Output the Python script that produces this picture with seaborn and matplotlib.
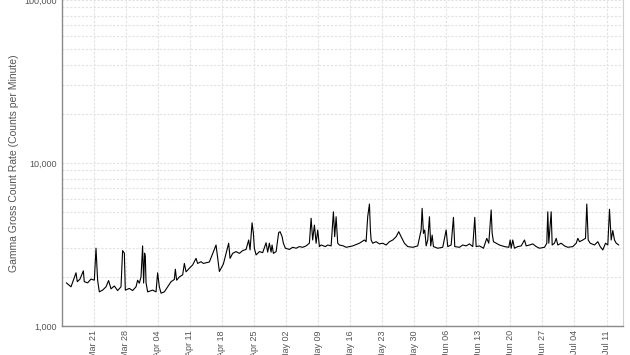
import matplotlib
matplotlib.use("Agg")
import matplotlib.pyplot as plt
import matplotlib.dates as mdates
import matplotlib.ticker as mticker
import numpy as np
import pandas as pd
import seaborn as sns

# Days after 2011-03-21 00:00 and gamma gross count rate (counts per minute)
days = [-6.01, -4.98, -3.89, -3.61, -3.02, -2.29, -2.08, -1.35, -0.61, 0.11,
        0.48, 0.83, 1.20, 1.92, 2.67, 3.23, 3.76, 4.48, 5.20, 5.94,
        6.29, 6.67, 6.88, 7.76, 8.48, 9.22, 9.57, 9.94, 10.31, 10.66,
        10.88, 11.10, 11.25, 11.41, 11.76, 12.85, 13.59, 13.94, 14.31, 14.69,
        15.41, 16.13, 16.87, 17.59, 17.81, 18.09, 18.68, 19.41, 19.78, 20.15,
        20.87, 21.59, 22.33, 22.68, 23.43, 23.93, 25.24, 26.70, 27.43, 28.30,
        29.46, 29.76, 30.33, 31.08, 31.80, 32.52, 33.26, 33.83, 34.13, 34.57,
        34.86, 35.07, 35.45, 36.17, 36.89, 37.63, 37.98, 38.35, 38.72, 38.94,
        39.23, 39.82, 40.38, 40.69, 41.13, 41.41, 41.85, 42.72, 43.44, 44.19,
        44.91, 45.63, 46.37, 47.09, 47.47, 47.81, 48.19, 48.56, 48.91, 49.28,
        49.65, 50.15, 50.59, 51.09, 51.84, 52.34, 52.62, 52.93, 53.28, 53.65,
        54.52, 55.11, 56.56, 58.02, 59.11, 59.48, 59.83, 60.21, 60.42, 60.58,
        60.93, 61.67, 62.39, 63.11, 63.86, 64.58, 65.30, 66.04, 66.61, 67.13,
        67.85, 68.58, 69.67, 70.76, 71.50, 71.72, 72.01, 72.29, 72.60, 72.95,
        73.32, 73.60, 73.91, 74.19, 75.13, 76.22, 76.97, 77.32, 78.06, 78.56,
        78.85, 79.87, 80.59, 81.34, 82.06, 82.78, 83.22, 83.52, 84.24, 85.12,
        85.84, 86.28, 86.80, 87.02, 87.30, 87.89, 88.61, 89.71, 90.65, 90.95,
        91.17, 91.52, 91.89, 92.61, 93.36, 94.08, 94.45, 95.17, 95.89, 96.64,
        97.36, 98.45, 98.95, 99.17, 99.39, 99.91, 100.13, 100.63, 101.01, 101.36,
        102.10, 102.82, 103.54, 104.63, 105.38, 105.73, 106.10, 106.82, 107.41, 107.69,
        108.00, 108.44, 109.38, 110.10, 110.62, 111.19, 111.78, 112.28, 112.65, 113.02,
        113.37, 113.74, 114.12, 114.68]

counts = [1840, 1740, 2120, 1870, 1940, 2180, 1870, 1840, 1940, 1910,
          3000, 1910, 1620, 1660, 1740, 1900, 1690, 1760, 1650, 1740,
          2900, 2800, 1660, 1700, 1650, 1740, 1910, 1830, 2000, 3100,
          1835, 2800, 2660, 1840, 1620, 1660, 1620, 2120, 1740, 1590,
          1620, 1740, 1870, 1930, 2230, 1910, 2000, 2060, 2420, 2150,
          2260, 2370, 2600, 2420, 2480, 2420, 2470, 3140, 2160, 2400,
          3220, 2600, 2790, 2860, 2790, 2900, 2950, 3370, 2930, 4300,
          3700, 3000, 2730, 2860, 2820, 3240, 2840, 3220, 2840, 3140,
          2790, 2860, 3740, 3790, 3530, 3220, 3000, 2950, 3040, 3000,
          3070, 3040, 3100, 3220, 4580, 3370, 4160, 3220, 3880, 3070,
          3140, 3100, 3070, 3140, 3100, 5020, 3530, 4680, 3220, 3140,
          3100, 3040, 3100, 3220, 3370, 3290, 4680, 5600, 3880, 3370,
          3220, 3290, 3190, 3220, 3140, 3290, 3370, 3530, 3790, 3530,
          3220, 3070, 3040, 3100, 3880, 5270, 3700, 3880, 3100, 3370,
          4680, 3100, 3610, 3070, 3000, 3040, 3880, 3070, 3140, 4640,
          3070, 3040, 3140, 3100, 3190, 3070, 4640, 3070, 3100, 3000,
          3450, 3220, 5150, 3700, 3290, 3220, 3140, 3070, 3040, 3370,
          3000, 3370, 3000, 3070, 3100, 3370, 3100, 3140, 3190, 3070,
          3000, 3040, 3220, 5020, 3220, 5020, 3140, 3220, 3450, 3140,
          3220, 3100, 3040, 3070, 3220, 3450, 3290, 3370, 3450, 5600,
          3370, 3220, 3140, 3290, 3070, 2930, 3220, 3140, 5200, 3370,
          3850, 3370, 3220, 3140]

y_label = "Gamma Gross Count Rate (Counts per Minute)"
y_major = [1000, 10000, 100000]

base = pd.Timestamp("2011-03-21")
df = pd.DataFrame({
    "time": base + pd.to_timedelta(days, unit="D"),
    "cpm": counts,
})

sns.set_style("white")
plt.rcParams["font.family"] = ["Liberation Sans", "DejaVu Sans"]

fig = plt.figure(figsize=(6.3, 3.55), dpi=100)
ax = fig.add_axes([62 / 630, 1 - 326 / 355, (623 - 62) / 630, 326 / 355])

sns.lineplot(data=df, x="time", y="cpm", ax=ax, color="black", lw=0.8,
             estimator=None, sort=False)

ax.set_yscale("log")
ax.set_ylim(1000, 100000)
ax.set_xlim(base + pd.Timedelta(days=-6.95), base + pd.Timedelta(days=115.6))

ax.yaxis.set_major_locator(mticker.FixedLocator(y_major))
ax.yaxis.set_major_formatter(mticker.FuncFormatter(lambda v, p: f"{int(v):,}"))
ax.yaxis.set_minor_locator(mticker.LogLocator(base=10, subs=np.arange(2, 10)))
ax.yaxis.set_minor_formatter(mticker.NullFormatter())

ax.xaxis.set_major_locator(mdates.WeekdayLocator(byweekday=mdates.MO))
ax.xaxis.set_major_formatter(mdates.DateFormatter("%b %d"))

grid_kw = dict(color="#e2e2e2", lw=0.8, linestyle=(0, (2, 1.5)))
ax.grid(True, which="major", axis="both", **grid_kw)
ax.grid(True, which="minor", axis="y", **grid_kw)
ax.set_axisbelow(True)

ax.tick_params(axis="both", which="both", length=0, labelsize=6.5,
               labelcolor="#555555")
ax.tick_params(axis="y", pad=4)
ax.tick_params(axis="x", pad=3)
for lbl in ax.get_xticklabels():
    lbl.set_rotation(90)
    lbl.set_ha("center")
    lbl.set_va("top")

ax.set_xlabel("")
ax.set_ylabel(y_label, fontsize=7.5, color="#555555")
ax.yaxis.set_label_coords(-(62 - 19) / 561, 0.5)

for side in ["left", "bottom"]:
    ax.spines[side].set_color("#8a8a8a")
    ax.spines[side].set_linewidth(1.0)
ax.spines["right"].set_color("#d0d0d0")
ax.spines["right"].set_linewidth(0.8)
ax.spines["top"].set_visible(False)

fig.savefig("out.png", dpi=100)
